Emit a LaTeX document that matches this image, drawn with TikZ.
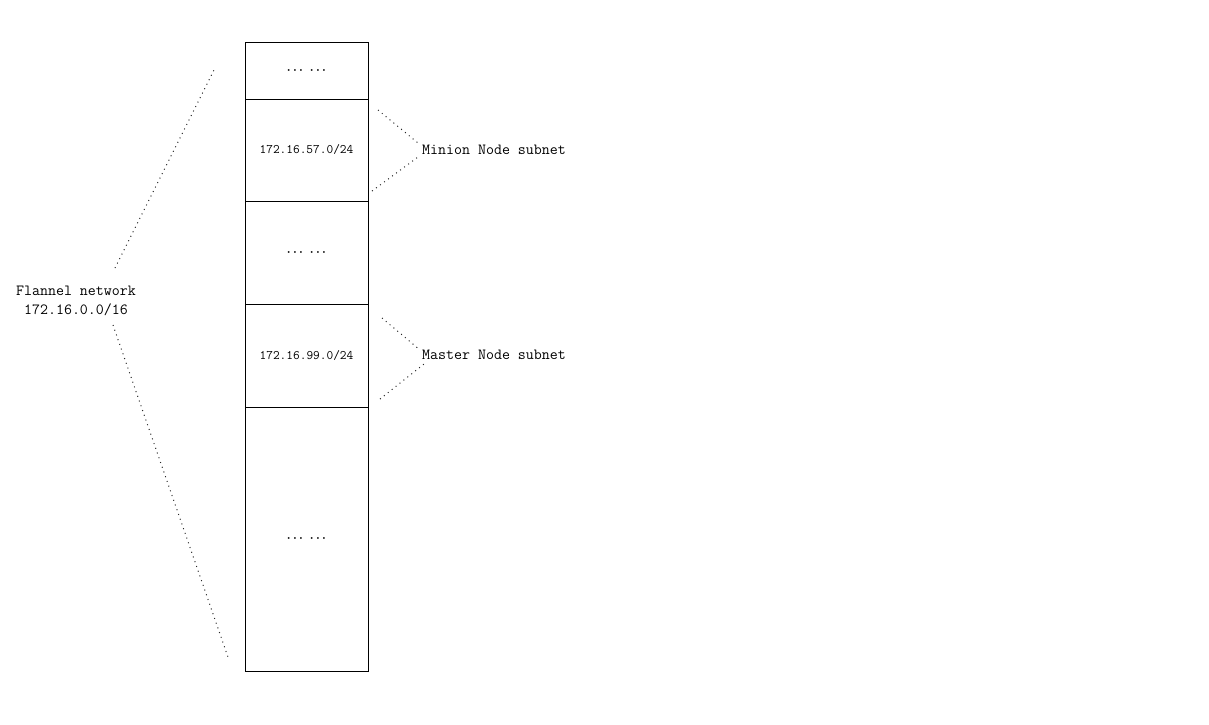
\documentclass[tikz,border=0pt]{standalone}
\usetikzlibrary{positioning}
\tikzset{
  block/.style={draw, line width=0.9pt, minimum width=123pt, outer sep=0pt, inner sep=0pt,
    font=\ttfamily\fontsize{13}{15}\selectfont},
  guide/.style={line width=1pt, dash pattern=on 1pt off 4pt, black!85},
  tag/.style={font=\ttfamily\fontsize{15.5}{19}\selectfont, align=center, inner sep=1pt}
}
\newcommand{\filler}{{\fontsize{11.5}{12}\selectfont\mathversion{bold}$\cdots$\hspace{7pt}$\cdots$}}
\begin{document}
\begin{tikzpicture}[x=1pt,y=-1pt]
    \useasboundingbox (0,0) rectangle (1209,724);
    % Address blocks
    \node[block, minimum height=57pt] (top) at (306.5,70.5) {\filler};
    \node[block, minimum height=102pt, below=0pt of top] (minion) {172.16.57.0/24};
    \node[block, minimum height=103pt, below=0pt of minion] (mid) {\filler};
    \node[block, minimum height=103pt, below=0pt of mid] (master) {172.16.99.0/24};
    \node[block, minimum height=264pt, below=0pt of master] (rest) {\filler};
    % Labels
    \node[tag] (flannel) at (76,301) {Flannel network\\172.16.0.0/16};
    \node[tag, anchor=west] (minionlab) at (421,150) {Minion Node subnet};
    \node[tag, anchor=west] (masterlab) at (421,355) {Master Node subnet};
    % Free ends of the guides
    \coordinate (fu0) at (115,268);
    \coordinate (fu1) at (215,68);
    \coordinate (fl0) at (113,325);
    \coordinate (fl1) at (229,660);
    \coordinate (mu) at (378,110);
    \coordinate (ml) at (372,191);
    \coordinate (su) at (382,318);
    \coordinate (sl) at (380,399);
    % Dotted guides
    \draw[guide] (fu0) -- (fu1);
    \draw[guide] (fl0) -- (fl1);
    \draw[guide] (mu) -- ([shift={(-3,-7)}]minionlab.west);
    \draw[guide] (ml) -- ([shift={(-3,7)}]minionlab.west);
    \draw[guide] (su) -- ([shift={(-1,-5)}]masterlab.west);
    \draw[guide] (sl) -- ([shift={(3,9)}]masterlab.west);
\end{tikzpicture}
\end{document}
